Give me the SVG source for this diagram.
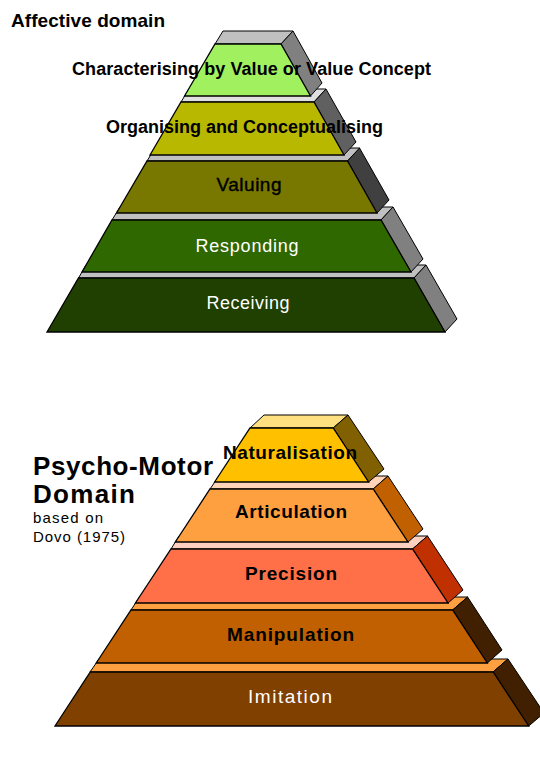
<svg xmlns="http://www.w3.org/2000/svg" width="540" height="768" viewBox="0 0 540 768">
<style>
  .face { stroke: #000; stroke-width: 1.3; stroke-linejoin: miter; }
  .side { stroke: #000; stroke-width: 1; }
  .top { stroke: #000; stroke-width: 1; }
  .lbl { font-family: "Liberation Sans", Arial, sans-serif; font-size: 18px; text-anchor: middle; }
  .lb { font-size: 19px; }
  .b { font-weight: bold; }
  .dark { fill: #000; }
  .light { fill: #fff; }
  .title { font-family: "Liberation Sans", Arial, sans-serif; font-weight: bold; fill: #000; }
  .sub { font-family: "Liberation Sans", Arial, sans-serif; fill: #000; font-size: 15px; }
</style>
<rect width="540" height="768" fill="#fff"/>

<g id="affective-pyramid">
  <g id="receiving">
    <polygon class="top" fill="#c0c0c0" points="78.5,278 86,265 426,265 414,278"/>
    <polygon class="side" fill="#808080" points="414,278 426,265 457,319 445,332"/>
    <polygon class="face" fill="#1f4000" points="78.5,278 414,278 445,332 47,332"/>
    <text class="lbl light" x="248" y="309" textLength="83" lengthAdjust="spacing">Receiving</text>
  </g>
  <g id="responding">
    <polygon class="top" fill="#c0c0c0" points="112,220 120,207 393,207 381,220"/>
    <polygon class="side" fill="#808080" points="381,220 393,207 423,259 411,272"/>
    <polygon class="face" fill="#306800" points="112,220 381,220 411,272 82,272"/>
    <text class="lbl light" x="247" y="252" textLength="103" lengthAdjust="spacing">Responding</text>
  </g>
  <g id="valuing">
    <polygon class="top" fill="#c0c0c0" points="147,161 155,148 360,148 347.5,161"/>
    <polygon class="side" fill="#404040" points="347.5,161 359.5,148 389,200 377,213"/>
    <polygon class="face" fill="#787800" points="147,161 347.5,161 377,213 116.5,213"/>
    <text class="lbl lb dark" x="249" y="191" textLength="65" lengthAdjust="spacing" stroke="#000" stroke-width="0.4">Valuing</text>
  </g>
  <g id="organising">
    <polygon class="top" fill="#e0e0e0" points="181,102 189,89 326,89 314,102"/>
    <polygon class="side" fill="#606060" points="314,102 326,89 356,142 344,155"/>
    <polygon class="face" fill="#b8b800" points="181,102 314,102 344,155 150,155"/>
    <text class="lbl dark b" x="244.5" y="133" textLength="277" lengthAdjust="spacing">Organising and Conceptualising</text>
  </g>
  <g id="characterising">
    <polygon class="top" fill="#c0c0c0" points="215,44 223,31 293,31 281,44"/>
    <polygon class="side" fill="#808080" points="281,44 293,31 322,83 310.5,96"/>
    <polygon class="face" fill="#a0f060" points="215,44 281,44 310.5,96 184.5,96"/>
    <text class="lbl dark b" x="251.5" y="75" textLength="359" lengthAdjust="spacing">Characterising by Value or Value Concept</text>
  </g>
</g>

<g id="psychomotor-pyramid">
  <g id="imitation">
    <polygon class="top" fill="#ffa040" points="90,672 99,659 508,659 493,672"/>
    <polygon class="side" fill="#402000" points="493,672 508,659 544,713 528.7,726"/>
    <polygon class="face" fill="#804000" points="90.3,672 493.2,672 528.7,726 55,726"/>
    <text class="lbl lb light" x="290" y="703" font-size="20" textLength="84" lengthAdjust="spacing">Imitation</text>
  </g>
  <g id="manipulation">
    <polygon class="top" fill="#ffa040" points="131,610 139.5,597 467.6,597 452.6,610"/>
    <polygon class="side" fill="#402000" points="452.6,610 467.6,597 502,650 487.3,663"/>
    <polygon class="face" fill="#c06000" points="131,610 452.6,610 487.3,663 96.2,663"/>
    <text class="lbl lb dark b" x="290.5" y="641" textLength="127" lengthAdjust="spacing">Manipulation</text>
  </g>
  <g id="precision">
    <polygon class="top" fill="#ffd0c0" points="171,549 179,536 427.5,536 412.5,549"/>
    <polygon class="side" fill="#c03000" points="412.5,549 427.5,536 463,590 448,603"/>
    <polygon class="face" fill="#ff7048" points="171,549 412.5,549 448,603 135.4,603"/>
    <text class="lbl lb dark b" x="291" y="580" textLength="92" lengthAdjust="spacing">Precision</text>
  </g>
  <g id="articulation">
    <polygon class="top" fill="#ffd4b8" points="210,489 219,476 388,476 373.2,489"/>
    <polygon class="side" fill="#c06000" points="373.2,489 388,476 423,529 408,542"/>
    <polygon class="face" fill="#ffa040" points="210,489 373.2,489 408,542 175.3,542"/>
    <text class="lbl lb dark b" x="291" y="518" textLength="112" lengthAdjust="spacing">Articulation</text>
  </g>
  <g id="naturalisation">
    <polygon class="top" fill="#ffe080" points="250,428 264,415 348,415 333.2,428"/>
    <polygon class="side" fill="#806000" points="333.2,428 348,415 384,469 368.6,482"/>
    <polygon class="face" fill="#ffc000" points="250,428 333.2,428 368.6,482 214.6,482"/>
    <text class="lbl lb dark b" x="290" y="459" textLength="134" lengthAdjust="spacing">Naturalisation</text>
  </g>
</g>

<g id="titles">
  <text class="title" x="11" y="27" font-size="19" textLength="154" lengthAdjust="spacing">Affective domain</text>
  <text class="title" x="33" y="475" font-size="26" textLength="180" lengthAdjust="spacing">Psycho-Motor</text>
  <text class="title" x="33" y="503" font-size="26" textLength="102" lengthAdjust="spacing">Domain</text>
  <text class="sub" x="33" y="523" textLength="70" lengthAdjust="spacing">based on</text>
  <text class="sub" x="33" y="542" textLength="92" lengthAdjust="spacing">Dovo (1975)</text>
</g>
</svg>
